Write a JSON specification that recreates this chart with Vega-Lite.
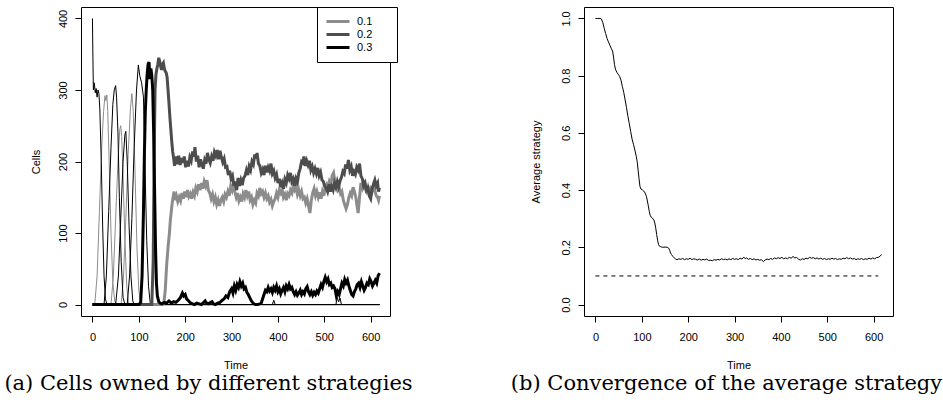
{
"$schema": "https://vega.github.io/schema/vega-lite/v6.json",
"background": "white",
"padding": {"left": 3, "top": 6, "right": 3, "bottom": 0},
"bounds": "flush",
"spacing": 194,
"config": {
  "view": {"stroke": "#000", "strokeWidth": 1},
  "font": "Liberation Sans",
  "axis": {"domain": false, "grid": false, "tickColor": "#000", "tickSize": 6, "labelColor": "#000", "labelFont": "Liberation Sans", "labelFontSize": 11, "titleFont": "Liberation Sans", "titleFontSize": 11, "titleFontWeight": "normal", "titleColor": "#000"},
  "title": {"font": "DejaVu Serif", "fontSize": 21, "fontWeight": "normal", "color": "#000"}
},
"datasets": {
  "thinBlack": [
    {"s":"1.0","t":0,"v":400},{"s":"1.0","t":1,"v":345},{"s":"1.0","t":2,"v":300},{"s":"1.0","t":4,"v":310},{"s":"1.0","t":6,"v":296},{"s":"1.0","t":8,"v":302},{"s":"1.0","t":10,"v":290},{"s":"1.0","t":12,"v":300},{"s":"1.0","t":14,"v":295},{"s":"1.0","t":16,"v":272},{"s":"1.0","t":19,"v":200},{"s":"1.0","t":22,"v":110},{"s":"1.0","t":25,"v":40},{"s":"1.0","t":28,"v":8},{"s":"1.0","t":31,"v":0},{"s":"1.0","t":619,"v":0},
    {"s":"0.8","t":0,"v":0},{"s":"0.8","t":25,"v":0},{"s":"0.8","t":30,"v":40},{"s":"0.8","t":35,"v":130},{"s":"0.8","t":40,"v":220},{"s":"0.8","t":44,"v":280},{"s":"0.8","t":47,"v":300},{"s":"0.8","t":50,"v":306},{"s":"0.8","t":52,"v":290},{"s":"0.8","t":55,"v":240},{"s":"0.8","t":58,"v":150},{"s":"0.8","t":62,"v":60},{"s":"0.8","t":66,"v":10},{"s":"0.8","t":70,"v":0},{"s":"0.8","t":619,"v":0},
    {"s":"0.6","t":0,"v":0},{"s":"0.6","t":50,"v":0},{"s":"0.6","t":56,"v":40},{"s":"0.6","t":61,"v":120},{"s":"0.6","t":66,"v":200},{"s":"0.6","t":70,"v":238},{"s":"0.6","t":72,"v":242},{"s":"0.6","t":75,"v":200},{"s":"0.6","t":79,"v":110},{"s":"0.6","t":83,"v":40},{"s":"0.6","t":87,"v":5},{"s":"0.6","t":90,"v":0},{"s":"0.6","t":619,"v":0},
    {"s":"0.4","t":0,"v":0},{"s":"0.4","t":75,"v":0},{"s":"0.4","t":80,"v":40},{"s":"0.4","t":85,"v":120},{"s":"0.4","t":90,"v":220},{"s":"0.4","t":95,"v":300},{"s":"0.4","t":99,"v":335},{"s":"0.4","t":102,"v":320},{"s":"0.4","t":106,"v":310},{"s":"0.4","t":110,"v":290},{"s":"0.4","t":113,"v":200},{"s":"0.4","t":117,"v":90},{"s":"0.4","t":121,"v":25},{"s":"0.4","t":125,"v":0},{"s":"0.4","t":388,"v":0},{"s":"0.4","t":391,"v":6},{"s":"0.4","t":394,"v":0},{"s":"0.4","t":525,"v":0},{"s":"0.4","t":528,"v":10},{"s":"0.4","t":531,"v":4},{"s":"0.4","t":534,"v":9},{"s":"0.4","t":537,"v":0},{"s":"0.4","t":619,"v":0}
  ],
  "thinGray": [
    {"s":"0.9","t":0,"v":0},{"s":"0.9","t":5,"v":0},{"s":"0.9","t":10,"v":40},{"s":"0.9","t":15,"v":130},{"s":"0.9","t":20,"v":220},{"s":"0.9","t":24,"v":270},{"s":"0.9","t":27,"v":292},{"s":"0.9","t":29,"v":285},{"s":"0.9","t":31,"v":293},{"s":"0.9","t":33,"v":270},{"s":"0.9","t":36,"v":200},{"s":"0.9","t":40,"v":100},{"s":"0.9","t":44,"v":30},{"s":"0.9","t":48,"v":5},{"s":"0.9","t":52,"v":0},{"s":"0.9","t":619,"v":0},
    {"s":"0.7","t":0,"v":0},{"s":"0.7","t":40,"v":0},{"s":"0.7","t":45,"v":40},{"s":"0.7","t":50,"v":120},{"s":"0.7","t":55,"v":200},{"s":"0.7","t":59,"v":245},{"s":"0.7","t":61,"v":250},{"s":"0.7","t":63,"v":235},{"s":"0.7","t":66,"v":180},{"s":"0.7","t":70,"v":90},{"s":"0.7","t":74,"v":25},{"s":"0.7","t":78,"v":0},{"s":"0.7","t":619,"v":0},
    {"s":"0.5","t":0,"v":0},{"s":"0.5","t":62,"v":0},{"s":"0.5","t":67,"v":40},{"s":"0.5","t":72,"v":120},{"s":"0.5","t":77,"v":210},{"s":"0.5","t":82,"v":275},{"s":"0.5","t":85,"v":295},{"s":"0.5","t":88,"v":270},{"s":"0.5","t":92,"v":180},{"s":"0.5","t":96,"v":80},{"s":"0.5","t":100,"v":20},{"s":"0.5","t":104,"v":0},{"s":"0.5","t":619,"v":0}
  ],
  "thick": [
    {"s":"0.1","t":0,"v":0},{"s":"0.1","t":150,"v":0},{"s":"0.1","t":154,"v":2},{"s":"0.1","t":157,"v":20},{"s":"0.1","t":160,"v":55},{"s":"0.1","t":163,"v":80},{"s":"0.1","t":166,"v":100},{"s":"0.1","t":168,"v":118},{"s":"0.1","t":170,"v":130},{"s":"0.1","t":172,"v":142},{"s":"0.1","t":174,"v":150},{"s":"0.1","t":176,"v":158},{"s":"0.1","t":178,"v":146},{"s":"0.1","t":181,"v":152},{"s":"0.1","t":184,"v":144},{"s":"0.1","t":187,"v":150},{"s":"0.1","t":190,"v":145},{"s":"0.1","t":193,"v":156},{"s":"0.1","t":196,"v":148},{"s":"0.1","t":199,"v":158},{"s":"0.1","t":202,"v":150},{"s":"0.1","t":205,"v":160},{"s":"0.1","t":208,"v":151},{"s":"0.1","t":211,"v":155},{"s":"0.1","t":214,"v":148},{"s":"0.1","t":217,"v":157},{"s":"0.1","t":220,"v":152},{"s":"0.1","t":223,"v":163},{"s":"0.1","t":226,"v":158},{"s":"0.1","t":229,"v":168},{"s":"0.1","t":232,"v":160},{"s":"0.1","t":235,"v":170},{"s":"0.1","t":238,"v":162},{"s":"0.1","t":241,"v":172},{"s":"0.1","t":244,"v":166},{"s":"0.1","t":247,"v":174},{"s":"0.1","t":250,"v":160},{"s":"0.1","t":253,"v":156},{"s":"0.1","t":256,"v":148},{"s":"0.1","t":259,"v":154},{"s":"0.1","t":262,"v":144},{"s":"0.1","t":265,"v":150},{"s":"0.1","t":268,"v":140},{"s":"0.1","t":271,"v":146},{"s":"0.1","t":274,"v":138},{"s":"0.1","t":277,"v":146},{"s":"0.1","t":280,"v":150},{"s":"0.1","t":283,"v":144},{"s":"0.1","t":286,"v":154},{"s":"0.1","t":289,"v":150},{"s":"0.1","t":292,"v":158},{"s":"0.1","t":295,"v":152},{"s":"0.1","t":298,"v":165},{"s":"0.1","t":301,"v":160},{"s":"0.1","t":304,"v":172},{"s":"0.1","t":307,"v":158},{"s":"0.1","t":310,"v":150},{"s":"0.1","t":313,"v":156},{"s":"0.1","t":316,"v":145},{"s":"0.1","t":319,"v":150},{"s":"0.1","t":322,"v":144},{"s":"0.1","t":325,"v":155},{"s":"0.1","t":328,"v":150},{"s":"0.1","t":331,"v":160},{"s":"0.1","t":334,"v":152},{"s":"0.1","t":337,"v":158},{"s":"0.1","t":340,"v":146},{"s":"0.1","t":343,"v":150},{"s":"0.1","t":346,"v":140},{"s":"0.1","t":349,"v":146},{"s":"0.1","t":352,"v":142},{"s":"0.1","t":355,"v":156},{"s":"0.1","t":358,"v":152},{"s":"0.1","t":361,"v":163},{"s":"0.1","t":364,"v":155},{"s":"0.1","t":367,"v":158},{"s":"0.1","t":370,"v":150},{"s":"0.1","t":373,"v":156},{"s":"0.1","t":376,"v":148},{"s":"0.1","t":379,"v":152},{"s":"0.1","t":382,"v":143},{"s":"0.1","t":385,"v":147},{"s":"0.1","t":388,"v":138},{"s":"0.1","t":391,"v":144},{"s":"0.1","t":394,"v":148},{"s":"0.1","t":397,"v":156},{"s":"0.1","t":400,"v":150},{"s":"0.1","t":403,"v":160},{"s":"0.1","t":406,"v":156},{"s":"0.1","t":409,"v":162},{"s":"0.1","t":412,"v":150},{"s":"0.1","t":415,"v":154},{"s":"0.1","t":418,"v":146},{"s":"0.1","t":421,"v":155},{"s":"0.1","t":424,"v":152},{"s":"0.1","t":427,"v":160},{"s":"0.1","t":430,"v":156},{"s":"0.1","t":433,"v":166},{"s":"0.1","t":436,"v":160},{"s":"0.1","t":439,"v":164},{"s":"0.1","t":442,"v":154},{"s":"0.1","t":445,"v":160},{"s":"0.1","t":448,"v":152},{"s":"0.1","t":451,"v":158},{"s":"0.1","t":454,"v":148},{"s":"0.1","t":457,"v":150},{"s":"0.1","t":460,"v":142},{"s":"0.1","t":463,"v":148},{"s":"0.1","t":466,"v":138},{"s":"0.1","t":469,"v":128},{"s":"0.1","t":472,"v":146},{"s":"0.1","t":475,"v":156},{"s":"0.1","t":478,"v":162},{"s":"0.1","t":481,"v":152},{"s":"0.1","t":484,"v":158},{"s":"0.1","t":487,"v":150},{"s":"0.1","t":490,"v":157},{"s":"0.1","t":493,"v":148},{"s":"0.1","t":496,"v":158},{"s":"0.1","t":499,"v":152},{"s":"0.1","t":502,"v":164},{"s":"0.1","t":505,"v":168},{"s":"0.1","t":508,"v":162},{"s":"0.1","t":511,"v":172},{"s":"0.1","t":514,"v":168},{"s":"0.1","t":517,"v":180},{"s":"0.1","t":520,"v":184},{"s":"0.1","t":523,"v":172},{"s":"0.1","t":526,"v":166},{"s":"0.1","t":529,"v":160},{"s":"0.1","t":532,"v":164},{"s":"0.1","t":535,"v":155},{"s":"0.1","t":538,"v":158},{"s":"0.1","t":541,"v":146},{"s":"0.1","t":544,"v":140},{"s":"0.1","t":547,"v":134},{"s":"0.1","t":550,"v":140},{"s":"0.1","t":553,"v":150},{"s":"0.1","t":556,"v":156},{"s":"0.1","t":559,"v":152},{"s":"0.1","t":562,"v":164},{"s":"0.1","t":565,"v":158},{"s":"0.1","t":568,"v":150},{"s":"0.1","t":571,"v":136},{"s":"0.1","t":573,"v":128},{"s":"0.1","t":576,"v":150},{"s":"0.1","t":579,"v":170},{"s":"0.1","t":582,"v":164},{"s":"0.1","t":585,"v":174},{"s":"0.1","t":588,"v":162},{"s":"0.1","t":591,"v":158},{"s":"0.1","t":594,"v":164},{"s":"0.1","t":597,"v":155},{"s":"0.1","t":600,"v":162},{"s":"0.1","t":603,"v":158},{"s":"0.1","t":606,"v":166},{"s":"0.1","t":609,"v":160},{"s":"0.1","t":612,"v":152},{"s":"0.1","t":615,"v":150},{"s":"0.1","t":617,"v":146},{"s":"0.1","t":619,"v":152},
    {"s":"0.2","t":0,"v":0},{"s":"0.2","t":128,"v":0},{"s":"0.2","t":131,"v":60},{"s":"0.2","t":133,"v":200},{"s":"0.2","t":135,"v":300},{"s":"0.2","t":137,"v":322},{"s":"0.2","t":139,"v":330},{"s":"0.2","t":141,"v":336},{"s":"0.2","t":143,"v":345},{"s":"0.2","t":145,"v":340},{"s":"0.2","t":147,"v":333},{"s":"0.2","t":149,"v":328},{"s":"0.2","t":151,"v":336},{"s":"0.2","t":153,"v":338},{"s":"0.2","t":155,"v":330},{"s":"0.2","t":157,"v":326},{"s":"0.2","t":159,"v":324},{"s":"0.2","t":161,"v":318},{"s":"0.2","t":163,"v":300},{"s":"0.2","t":165,"v":282},{"s":"0.2","t":167,"v":262},{"s":"0.2","t":169,"v":245},{"s":"0.2","t":171,"v":228},{"s":"0.2","t":173,"v":214},{"s":"0.2","t":175,"v":205},{"s":"0.2","t":177,"v":194},{"s":"0.2","t":180,"v":207},{"s":"0.2","t":183,"v":196},{"s":"0.2","t":186,"v":208},{"s":"0.2","t":189,"v":195},{"s":"0.2","t":192,"v":205},{"s":"0.2","t":195,"v":198},{"s":"0.2","t":198,"v":207},{"s":"0.2","t":201,"v":192},{"s":"0.2","t":204,"v":201},{"s":"0.2","t":207,"v":193},{"s":"0.2","t":210,"v":206},{"s":"0.2","t":213,"v":201},{"s":"0.2","t":216,"v":214},{"s":"0.2","t":219,"v":207},{"s":"0.2","t":221,"v":220},{"s":"0.2","t":224,"v":200},{"s":"0.2","t":227,"v":208},{"s":"0.2","t":230,"v":192},{"s":"0.2","t":233,"v":203},{"s":"0.2","t":236,"v":196},{"s":"0.2","t":239,"v":190},{"s":"0.2","t":242,"v":202},{"s":"0.2","t":245,"v":197},{"s":"0.2","t":248,"v":212},{"s":"0.2","t":251,"v":203},{"s":"0.2","t":254,"v":198},{"s":"0.2","t":257,"v":207},{"s":"0.2","t":260,"v":201},{"s":"0.2","t":263,"v":213},{"s":"0.2","t":266,"v":208},{"s":"0.2","t":269,"v":216},{"s":"0.2","t":272,"v":203},{"s":"0.2","t":275,"v":215},{"s":"0.2","t":278,"v":206},{"s":"0.2","t":281,"v":199},{"s":"0.2","t":284,"v":204},{"s":"0.2","t":287,"v":192},{"s":"0.2","t":290,"v":193},{"s":"0.2","t":293,"v":181},{"s":"0.2","t":296,"v":187},{"s":"0.2","t":299,"v":176},{"s":"0.2","t":302,"v":180},{"s":"0.2","t":305,"v":166},{"s":"0.2","t":308,"v":172},{"s":"0.2","t":311,"v":160},{"s":"0.2","t":314,"v":177},{"s":"0.2","t":317,"v":166},{"s":"0.2","t":320,"v":174},{"s":"0.2","t":323,"v":167},{"s":"0.2","t":326,"v":177},{"s":"0.2","t":329,"v":180},{"s":"0.2","t":332,"v":188},{"s":"0.2","t":335,"v":181},{"s":"0.2","t":338,"v":193},{"s":"0.2","t":341,"v":188},{"s":"0.2","t":344,"v":200},{"s":"0.2","t":347,"v":196},{"s":"0.2","t":350,"v":210},{"s":"0.2","t":353,"v":204},{"s":"0.2","t":355,"v":212},{"s":"0.2","t":358,"v":197},{"s":"0.2","t":361,"v":194},{"s":"0.2","t":364,"v":184},{"s":"0.2","t":367,"v":189},{"s":"0.2","t":370,"v":181},{"s":"0.2","t":373,"v":194},{"s":"0.2","t":376,"v":185},{"s":"0.2","t":379,"v":192},{"s":"0.2","t":382,"v":187},{"s":"0.2","t":385,"v":197},{"s":"0.2","t":388,"v":183},{"s":"0.2","t":391,"v":187},{"s":"0.2","t":394,"v":177},{"s":"0.2","t":397,"v":182},{"s":"0.2","t":400,"v":170},{"s":"0.2","t":403,"v":176},{"s":"0.2","t":406,"v":164},{"s":"0.2","t":409,"v":170},{"s":"0.2","t":412,"v":162},{"s":"0.2","t":415,"v":175},{"s":"0.2","t":418,"v":170},{"s":"0.2","t":421,"v":181},{"s":"0.2","t":424,"v":176},{"s":"0.2","t":427,"v":184},{"s":"0.2","t":430,"v":172},{"s":"0.2","t":433,"v":176},{"s":"0.2","t":436,"v":166},{"s":"0.2","t":439,"v":176},{"s":"0.2","t":442,"v":171},{"s":"0.2","t":445,"v":184},{"s":"0.2","t":448,"v":190},{"s":"0.2","t":451,"v":200},{"s":"0.2","t":454,"v":198},{"s":"0.2","t":456,"v":207},{"s":"0.2","t":459,"v":194},{"s":"0.2","t":462,"v":201},{"s":"0.2","t":465,"v":195},{"s":"0.2","t":468,"v":201},{"s":"0.2","t":471,"v":188},{"s":"0.2","t":474,"v":193},{"s":"0.2","t":477,"v":184},{"s":"0.2","t":480,"v":190},{"s":"0.2","t":483,"v":183},{"s":"0.2","t":486,"v":191},{"s":"0.2","t":489,"v":180},{"s":"0.2","t":492,"v":185},{"s":"0.2","t":495,"v":174},{"s":"0.2","t":498,"v":172},{"s":"0.2","t":501,"v":165},{"s":"0.2","t":504,"v":163},{"s":"0.2","t":507,"v":158},{"s":"0.2","t":510,"v":168},{"s":"0.2","t":513,"v":158},{"s":"0.2","t":516,"v":165},{"s":"0.2","t":519,"v":160},{"s":"0.2","t":522,"v":170},{"s":"0.2","t":525,"v":164},{"s":"0.2","t":528,"v":172},{"s":"0.2","t":531,"v":165},{"s":"0.2","t":534,"v":173},{"s":"0.2","t":537,"v":178},{"s":"0.2","t":540,"v":186},{"s":"0.2","t":543,"v":183},{"s":"0.2","t":546,"v":196},{"s":"0.2","t":549,"v":190},{"s":"0.2","t":552,"v":202},{"s":"0.2","t":555,"v":188},{"s":"0.2","t":558,"v":193},{"s":"0.2","t":561,"v":180},{"s":"0.2","t":564,"v":186},{"s":"0.2","t":567,"v":182},{"s":"0.2","t":570,"v":192},{"s":"0.2","t":573,"v":188},{"s":"0.2","t":576,"v":197},{"s":"0.2","t":579,"v":180},{"s":"0.2","t":582,"v":176},{"s":"0.2","t":585,"v":166},{"s":"0.2","t":588,"v":170},{"s":"0.2","t":591,"v":160},{"s":"0.2","t":594,"v":163},{"s":"0.2","t":597,"v":152},{"s":"0.2","t":600,"v":148},{"s":"0.2","t":603,"v":162},{"s":"0.2","t":606,"v":168},{"s":"0.2","t":609,"v":174},{"s":"0.2","t":612,"v":166},{"s":"0.2","t":615,"v":170},{"s":"0.2","t":617,"v":158},{"s":"0.2","t":619,"v":163},
    {"s":"0.3","t":0,"v":0},{"s":"0.3","t":100,"v":0},{"s":"0.3","t":104,"v":3},{"s":"0.3","t":107,"v":40},{"s":"0.3","t":110,"v":130},{"s":"0.3","t":112,"v":210},{"s":"0.3","t":114,"v":270},{"s":"0.3","t":116,"v":300},{"s":"0.3","t":118,"v":322},{"s":"0.3","t":120,"v":336},{"s":"0.3","t":122,"v":339},{"s":"0.3","t":124,"v":315},{"s":"0.3","t":126,"v":330},{"s":"0.3","t":128,"v":320},{"s":"0.3","t":130,"v":300},{"s":"0.3","t":132,"v":240},{"s":"0.3","t":134,"v":160},{"s":"0.3","t":136,"v":80},{"s":"0.3","t":138,"v":30},{"s":"0.3","t":140,"v":12},{"s":"0.3","t":143,"v":4},{"s":"0.3","t":146,"v":2},{"s":"0.3","t":150,"v":1},{"s":"0.3","t":155,"v":3},{"s":"0.3","t":160,"v":2},{"s":"0.3","t":165,"v":5},{"s":"0.3","t":170,"v":2},{"s":"0.3","t":175,"v":4},{"s":"0.3","t":180,"v":3},{"s":"0.3","t":185,"v":6},{"s":"0.3","t":190,"v":10},{"s":"0.3","t":194,"v":16},{"s":"0.3","t":197,"v":12},{"s":"0.3","t":200,"v":14},{"s":"0.3","t":203,"v":8},{"s":"0.3","t":206,"v":6},{"s":"0.3","t":209,"v":4},{"s":"0.3","t":212,"v":2},{"s":"0.3","t":216,"v":1},{"s":"0.3","t":220,"v":0},{"s":"0.3","t":225,"v":2},{"s":"0.3","t":230,"v":1},{"s":"0.3","t":235,"v":0},{"s":"0.3","t":240,"v":3},{"s":"0.3","t":243,"v":5},{"s":"0.3","t":246,"v":2},{"s":"0.3","t":250,"v":1},{"s":"0.3","t":255,"v":3},{"s":"0.3","t":258,"v":4},{"s":"0.3","t":261,"v":1},{"s":"0.3","t":265,"v":0},{"s":"0.3","t":270,"v":2},{"s":"0.3","t":275,"v":3},{"s":"0.3","t":280,"v":6},{"s":"0.3","t":284,"v":8},{"s":"0.3","t":288,"v":12},{"s":"0.3","t":292,"v":10},{"s":"0.3","t":296,"v":18},{"s":"0.3","t":300,"v":22},{"s":"0.3","t":303,"v":16},{"s":"0.3","t":306,"v":26},{"s":"0.3","t":309,"v":20},{"s":"0.3","t":312,"v":28},{"s":"0.3","t":315,"v":24},{"s":"0.3","t":318,"v":32},{"s":"0.3","t":321,"v":26},{"s":"0.3","t":324,"v":30},{"s":"0.3","t":327,"v":22},{"s":"0.3","t":330,"v":24},{"s":"0.3","t":333,"v":17},{"s":"0.3","t":336,"v":14},{"s":"0.3","t":339,"v":10},{"s":"0.3","t":342,"v":6},{"s":"0.3","t":345,"v":3},{"s":"0.3","t":348,"v":1},{"s":"0.3","t":352,"v":0},{"s":"0.3","t":356,"v":0},{"s":"0.3","t":360,"v":1},{"s":"0.3","t":364,"v":2},{"s":"0.3","t":367,"v":8},{"s":"0.3","t":370,"v":14},{"s":"0.3","t":373,"v":20},{"s":"0.3","t":376,"v":18},{"s":"0.3","t":379,"v":24},{"s":"0.3","t":382,"v":19},{"s":"0.3","t":385,"v":22},{"s":"0.3","t":388,"v":17},{"s":"0.3","t":391,"v":24},{"s":"0.3","t":394,"v":20},{"s":"0.3","t":397,"v":26},{"s":"0.3","t":400,"v":18},{"s":"0.3","t":403,"v":22},{"s":"0.3","t":406,"v":15},{"s":"0.3","t":409,"v":20},{"s":"0.3","t":412,"v":24},{"s":"0.3","t":415,"v":18},{"s":"0.3","t":418,"v":26},{"s":"0.3","t":421,"v":22},{"s":"0.3","t":424,"v":28},{"s":"0.3","t":427,"v":22},{"s":"0.3","t":430,"v":24},{"s":"0.3","t":433,"v":18},{"s":"0.3","t":436,"v":14},{"s":"0.3","t":439,"v":18},{"s":"0.3","t":442,"v":13},{"s":"0.3","t":445,"v":16},{"s":"0.3","t":448,"v":20},{"s":"0.3","t":451,"v":14},{"s":"0.3","t":454,"v":18},{"s":"0.3","t":457,"v":15},{"s":"0.3","t":460,"v":22},{"s":"0.3","t":463,"v":25},{"s":"0.3","t":466,"v":18},{"s":"0.3","t":469,"v":14},{"s":"0.3","t":472,"v":18},{"s":"0.3","t":475,"v":13},{"s":"0.3","t":478,"v":17},{"s":"0.3","t":481,"v":14},{"s":"0.3","t":484,"v":19},{"s":"0.3","t":487,"v":16},{"s":"0.3","t":490,"v":22},{"s":"0.3","t":493,"v":28},{"s":"0.3","t":496,"v":24},{"s":"0.3","t":499,"v":32},{"s":"0.3","t":502,"v":38},{"s":"0.3","t":505,"v":32},{"s":"0.3","t":508,"v":36},{"s":"0.3","t":511,"v":28},{"s":"0.3","t":514,"v":30},{"s":"0.3","t":517,"v":24},{"s":"0.3","t":520,"v":26},{"s":"0.3","t":523,"v":22},{"s":"0.3","t":526,"v":12},{"s":"0.3","t":529,"v":18},{"s":"0.3","t":532,"v":14},{"s":"0.3","t":535,"v":22},{"s":"0.3","t":538,"v":30},{"s":"0.3","t":541,"v":26},{"s":"0.3","t":544,"v":35},{"s":"0.3","t":547,"v":30},{"s":"0.3","t":550,"v":34},{"s":"0.3","t":553,"v":26},{"s":"0.3","t":556,"v":20},{"s":"0.3","t":559,"v":14},{"s":"0.3","t":562,"v":12},{"s":"0.3","t":565,"v":18},{"s":"0.3","t":568,"v":22},{"s":"0.3","t":571,"v":28},{"s":"0.3","t":574,"v":30},{"s":"0.3","t":577,"v":24},{"s":"0.3","t":580,"v":32},{"s":"0.3","t":583,"v":26},{"s":"0.3","t":586,"v":20},{"s":"0.3","t":589,"v":24},{"s":"0.3","t":592,"v":30},{"s":"0.3","t":595,"v":28},{"s":"0.3","t":598,"v":36},{"s":"0.3","t":601,"v":32},{"s":"0.3","t":604,"v":26},{"s":"0.3","t":607,"v":30},{"s":"0.3","t":610,"v":34},{"s":"0.3","t":613,"v":30},{"s":"0.3","t":616,"v":40},{"s":"0.3","t":619,"v":44}
  ],
  "avg": [
    {"t":0,"v":1.0},{"t":5,"v":1.0},{"t":10,"v":1.0},{"t":13,"v":0.998},{"t":16,"v":0.985},{"t":19,"v":0.965},{"t":22,"v":0.947},{"t":25,"v":0.93},{"t":28,"v":0.918},{"t":31,"v":0.907},{"t":34,"v":0.896},{"t":37,"v":0.886},{"t":39,"v":0.865},{"t":41,"v":0.84},{"t":43,"v":0.823},{"t":46,"v":0.812},{"t":49,"v":0.805},{"t":52,"v":0.798},{"t":55,"v":0.785},{"t":58,"v":0.762},{"t":61,"v":0.742},{"t":64,"v":0.715},{"t":67,"v":0.688},{"t":70,"v":0.658},{"t":73,"v":0.632},{"t":76,"v":0.605},{"t":79,"v":0.578},{"t":82,"v":0.56},{"t":85,"v":0.54},{"t":88,"v":0.518},{"t":90,"v":0.5},{"t":92,"v":0.47},{"t":94,"v":0.44},{"t":96,"v":0.413},{"t":98,"v":0.404},{"t":101,"v":0.401},{"t":104,"v":0.397},{"t":107,"v":0.39},{"t":110,"v":0.378},{"t":112,"v":0.362},{"t":114,"v":0.345},{"t":116,"v":0.326},{"t":118,"v":0.312},{"t":120,"v":0.306},{"t":123,"v":0.302},{"t":126,"v":0.295},{"t":128,"v":0.285},{"t":130,"v":0.268},{"t":132,"v":0.245},{"t":134,"v":0.225},{"t":136,"v":0.21},{"t":138,"v":0.204},{"t":141,"v":0.202},{"t":145,"v":0.2},{"t":150,"v":0.201},{"t":155,"v":0.2},{"t":158,"v":0.197},{"t":160,"v":0.19},{"t":162,"v":0.18},{"t":164,"v":0.175},{"t":167,"v":0.168},{"t":170,"v":0.163},{"t":173,"v":0.159},{"t":176,"v":0.157},{"t":180,"v":0.16},{"t":184,"v":0.158},{"t":188,"v":0.161},{"t":192,"v":0.157},{"t":196,"v":0.16},{"t":200,"v":0.158},{"t":204,"v":0.162},{"t":208,"v":0.157},{"t":212,"v":0.16},{"t":216,"v":0.158},{"t":220,"v":0.156},{"t":224,"v":0.159},{"t":228,"v":0.155},{"t":232,"v":0.158},{"t":236,"v":0.156},{"t":240,"v":0.159},{"t":244,"v":0.154},{"t":248,"v":0.155},{"t":252,"v":0.153},{"t":256,"v":0.157},{"t":260,"v":0.155},{"t":264,"v":0.158},{"t":268,"v":0.156},{"t":272,"v":0.16},{"t":276,"v":0.157},{"t":280,"v":0.159},{"t":284,"v":0.156},{"t":288,"v":0.16},{"t":292,"v":0.157},{"t":296,"v":0.161},{"t":300,"v":0.158},{"t":304,"v":0.16},{"t":308,"v":0.157},{"t":312,"v":0.162},{"t":316,"v":0.159},{"t":320,"v":0.166},{"t":323,"v":0.16},{"t":326,"v":0.163},{"t":330,"v":0.158},{"t":334,"v":0.161},{"t":338,"v":0.157},{"t":342,"v":0.16},{"t":346,"v":0.156},{"t":350,"v":0.158},{"t":354,"v":0.155},{"t":358,"v":0.157},{"t":362,"v":0.15},{"t":366,"v":0.156},{"t":370,"v":0.159},{"t":374,"v":0.157},{"t":378,"v":0.161},{"t":382,"v":0.158},{"t":386,"v":0.163},{"t":390,"v":0.16},{"t":394,"v":0.164},{"t":398,"v":0.161},{"t":402,"v":0.165},{"t":406,"v":0.16},{"t":410,"v":0.163},{"t":414,"v":0.16},{"t":418,"v":0.165},{"t":422,"v":0.162},{"t":426,"v":0.168},{"t":430,"v":0.163},{"t":434,"v":0.165},{"t":438,"v":0.158},{"t":442,"v":0.156},{"t":446,"v":0.16},{"t":450,"v":0.158},{"t":454,"v":0.162},{"t":458,"v":0.16},{"t":462,"v":0.165},{"t":466,"v":0.162},{"t":470,"v":0.164},{"t":474,"v":0.16},{"t":478,"v":0.163},{"t":482,"v":0.159},{"t":486,"v":0.162},{"t":490,"v":0.158},{"t":494,"v":0.161},{"t":498,"v":0.157},{"t":502,"v":0.16},{"t":506,"v":0.158},{"t":510,"v":0.162},{"t":514,"v":0.159},{"t":518,"v":0.161},{"t":522,"v":0.157},{"t":526,"v":0.16},{"t":530,"v":0.158},{"t":534,"v":0.162},{"t":538,"v":0.16},{"t":542,"v":0.164},{"t":546,"v":0.16},{"t":550,"v":0.163},{"t":554,"v":0.159},{"t":558,"v":0.161},{"t":562,"v":0.157},{"t":566,"v":0.16},{"t":570,"v":0.158},{"t":574,"v":0.161},{"t":578,"v":0.157},{"t":582,"v":0.16},{"t":586,"v":0.158},{"t":590,"v":0.162},{"t":594,"v":0.159},{"t":598,"v":0.163},{"t":602,"v":0.16},{"t":606,"v":0.164},{"t":610,"v":0.165},{"t":614,"v":0.169},{"t":617,"v":0.175}
  ],
  "ref": [{"t":0,"v":0.1},{"t":610,"v":0.1}]
},
"hconcat": [
  {
    "width": 309, "height": 309,
    "title": {"text": "(a) Cells owned by different strategies", "orient": "bottom", "anchor": "middle", "frame": "group", "dx": -27, "offset": 3},
    "encoding": {
      "x": {"field": "t", "type": "quantitative", "scale": {"domain": [-24.7, 641.7], "nice": false, "zero": false}, "axis": {"values": [0,100,200,300,400,500,600], "title": "Time", "labelPadding": 9, "labelBaseline": "top", "titlePadding": 17}},
      "y": {"field": "v", "type": "quantitative", "scale": {"domain": [-16, 416], "nice": false, "zero": false}, "axis": {"values": [0,100,200,300,400], "title": "Cells", "labelAngle": -90, "labelAlign": "center", "labelBaseline": "bottom", "labelPadding": 7, "titlePadding": 16}}
    },
    "layer": [
      {"data": {"name": "thinGray"}, "mark": {"type": "line", "stroke": "#8c8c8c", "strokeWidth": 1}, "encoding": {"detail": {"field": "s"}}},
      {"data": {"name": "thinBlack"}, "mark": {"type": "line", "stroke": "#000", "strokeWidth": 1}, "encoding": {"detail": {"field": "s"}}},
      {"data": {"name": "thick"}, "mark": {"type": "line", "strokeWidth": 3}, "encoding": {
        "color": {"field": "s", "type": "nominal", "scale": {"domain": ["0.1","0.2","0.3"], "range": ["#8c8c8c","#4d4d4d","#000000"]},
          "legend": {"orient": "none", "legendX": 236, "legendY": 0, "title": null, "strokeColor": "#000", "fillColor": "#fff", "padding": 8, "symbolType": "M-1,0H3.6", "symbolStrokeWidth": 3, "symbolSize": 100, "labelFont": "Liberation Sans", "labelFontSize": 11, "labelColor": "#000", "labelOffset": 19, "labelExpr": "datum.label + '\u2800\u2800'", "rowPadding": 0, "cornerRadius": 0}}
      }}
    ]
  },
  {
    "width": 309, "height": 309,
    "title": {"text": "(b) Convergence of the average strategy", "orient": "bottom", "anchor": "middle", "frame": "group", "dx": -12, "offset": 3},
    "encoding": {
      "x": {"field": "t", "type": "quantitative", "scale": {"domain": [-24.7, 641.7], "nice": false, "zero": false}, "axis": {"values": [0,100,200,300,400,500,600], "title": "Time", "labelPadding": 9, "labelBaseline": "top", "titlePadding": 17}},
      "y": {"field": "v", "type": "quantitative", "scale": {"domain": [-0.04, 1.04], "nice": false, "zero": false}, "axis": {"values": [0,0.2,0.4,0.6,0.8,1.0], "format": ".1f", "title": "Average strategy", "labelAngle": -90, "labelAlign": "center", "labelBaseline": "bottom", "labelPadding": 7, "titlePadding": 19}}
    },
    "layer": [
      {"data": {"name": "avg"}, "mark": {"type": "line", "stroke": "#000", "strokeWidth": 1}},
      {"data": {"name": "ref"}, "mark": {"type": "line", "stroke": "#000", "strokeWidth": 1, "strokeDash": [4, 4]}}
    ]
  }
]
}
